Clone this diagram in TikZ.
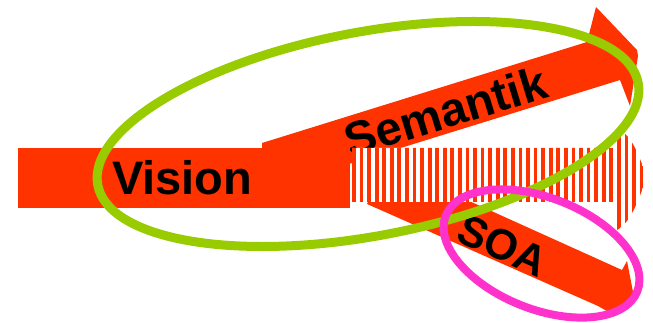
\documentclass[tikz,border=0pt]{standalone}
\usepackage{fontspec}
\setmainfont{Liberation Sans}
\definecolor{arrowred}{HTML}{FF3300}
\definecolor{ringgreen}{HTML}{99CC00}
\definecolor{ringpink}{HTML}{FF33CC}
\newcommand{\tailshape}{(352,148) -- (617,148) -- (617,130)
  .. controls (632,132) and (640,160) .. (647,177)
  .. controls (640,195) and (632,222) .. (617,230) -- (617,202) -- (352,202) -- cycle}

\begin{document}
\begin{tikzpicture}[x=1pt,y=-1pt,
  band/.style={fill=arrowred},
  word/.style={inner sep=0pt,font=\fontsize{#1}{#1}\selectfont\bfseries},
  word/.default=47,
  ring/.style={line width=#1},
  ring/.default=9pt]
\useasboundingbox (0,0) rectangle (653,323);
\fill[band] (262,143) -- (587,42) -- (596,7) -- (637,50) -- (638,56) -- (630,106) -- (620,80) -- (262,191) -- cycle;
\node[word,anchor=base west,rotate=17] (sem) at (350,158) {Semantik};
\fill[band] (385,163) -- (622,270) -- (627,261) -- (634,297) -- (612,314) -- (598,306) -- (367,204) -- cycle;
\node[word=43,anchor=base west,rotate=-24] (soa) at (454,240) {SOA};
\fill[band] (18,148) rectangle (350,208);
\node[word,anchor=base west] (vis) at (112,195) {Vision};
\fill[white] \tailshape;
\begin{scope}
\clip \tailshape;
\foreach \i in {0,...,39}
  \fill[band] ({352+7.57*\i},120) rectangle +(3.8,120);
\end{scope}
\draw[ring,ringgreen,rotate around={10.7:(368,134)}] (368,134) ellipse [x radius=275,y radius=102];
\draw[ring=8pt,ringpink,rotate around={-21.6:(541.5,253.5)}] (541.5,253.5) ellipse [x radius=103,y radius=55.6];
\end{tikzpicture}
\end{document}
